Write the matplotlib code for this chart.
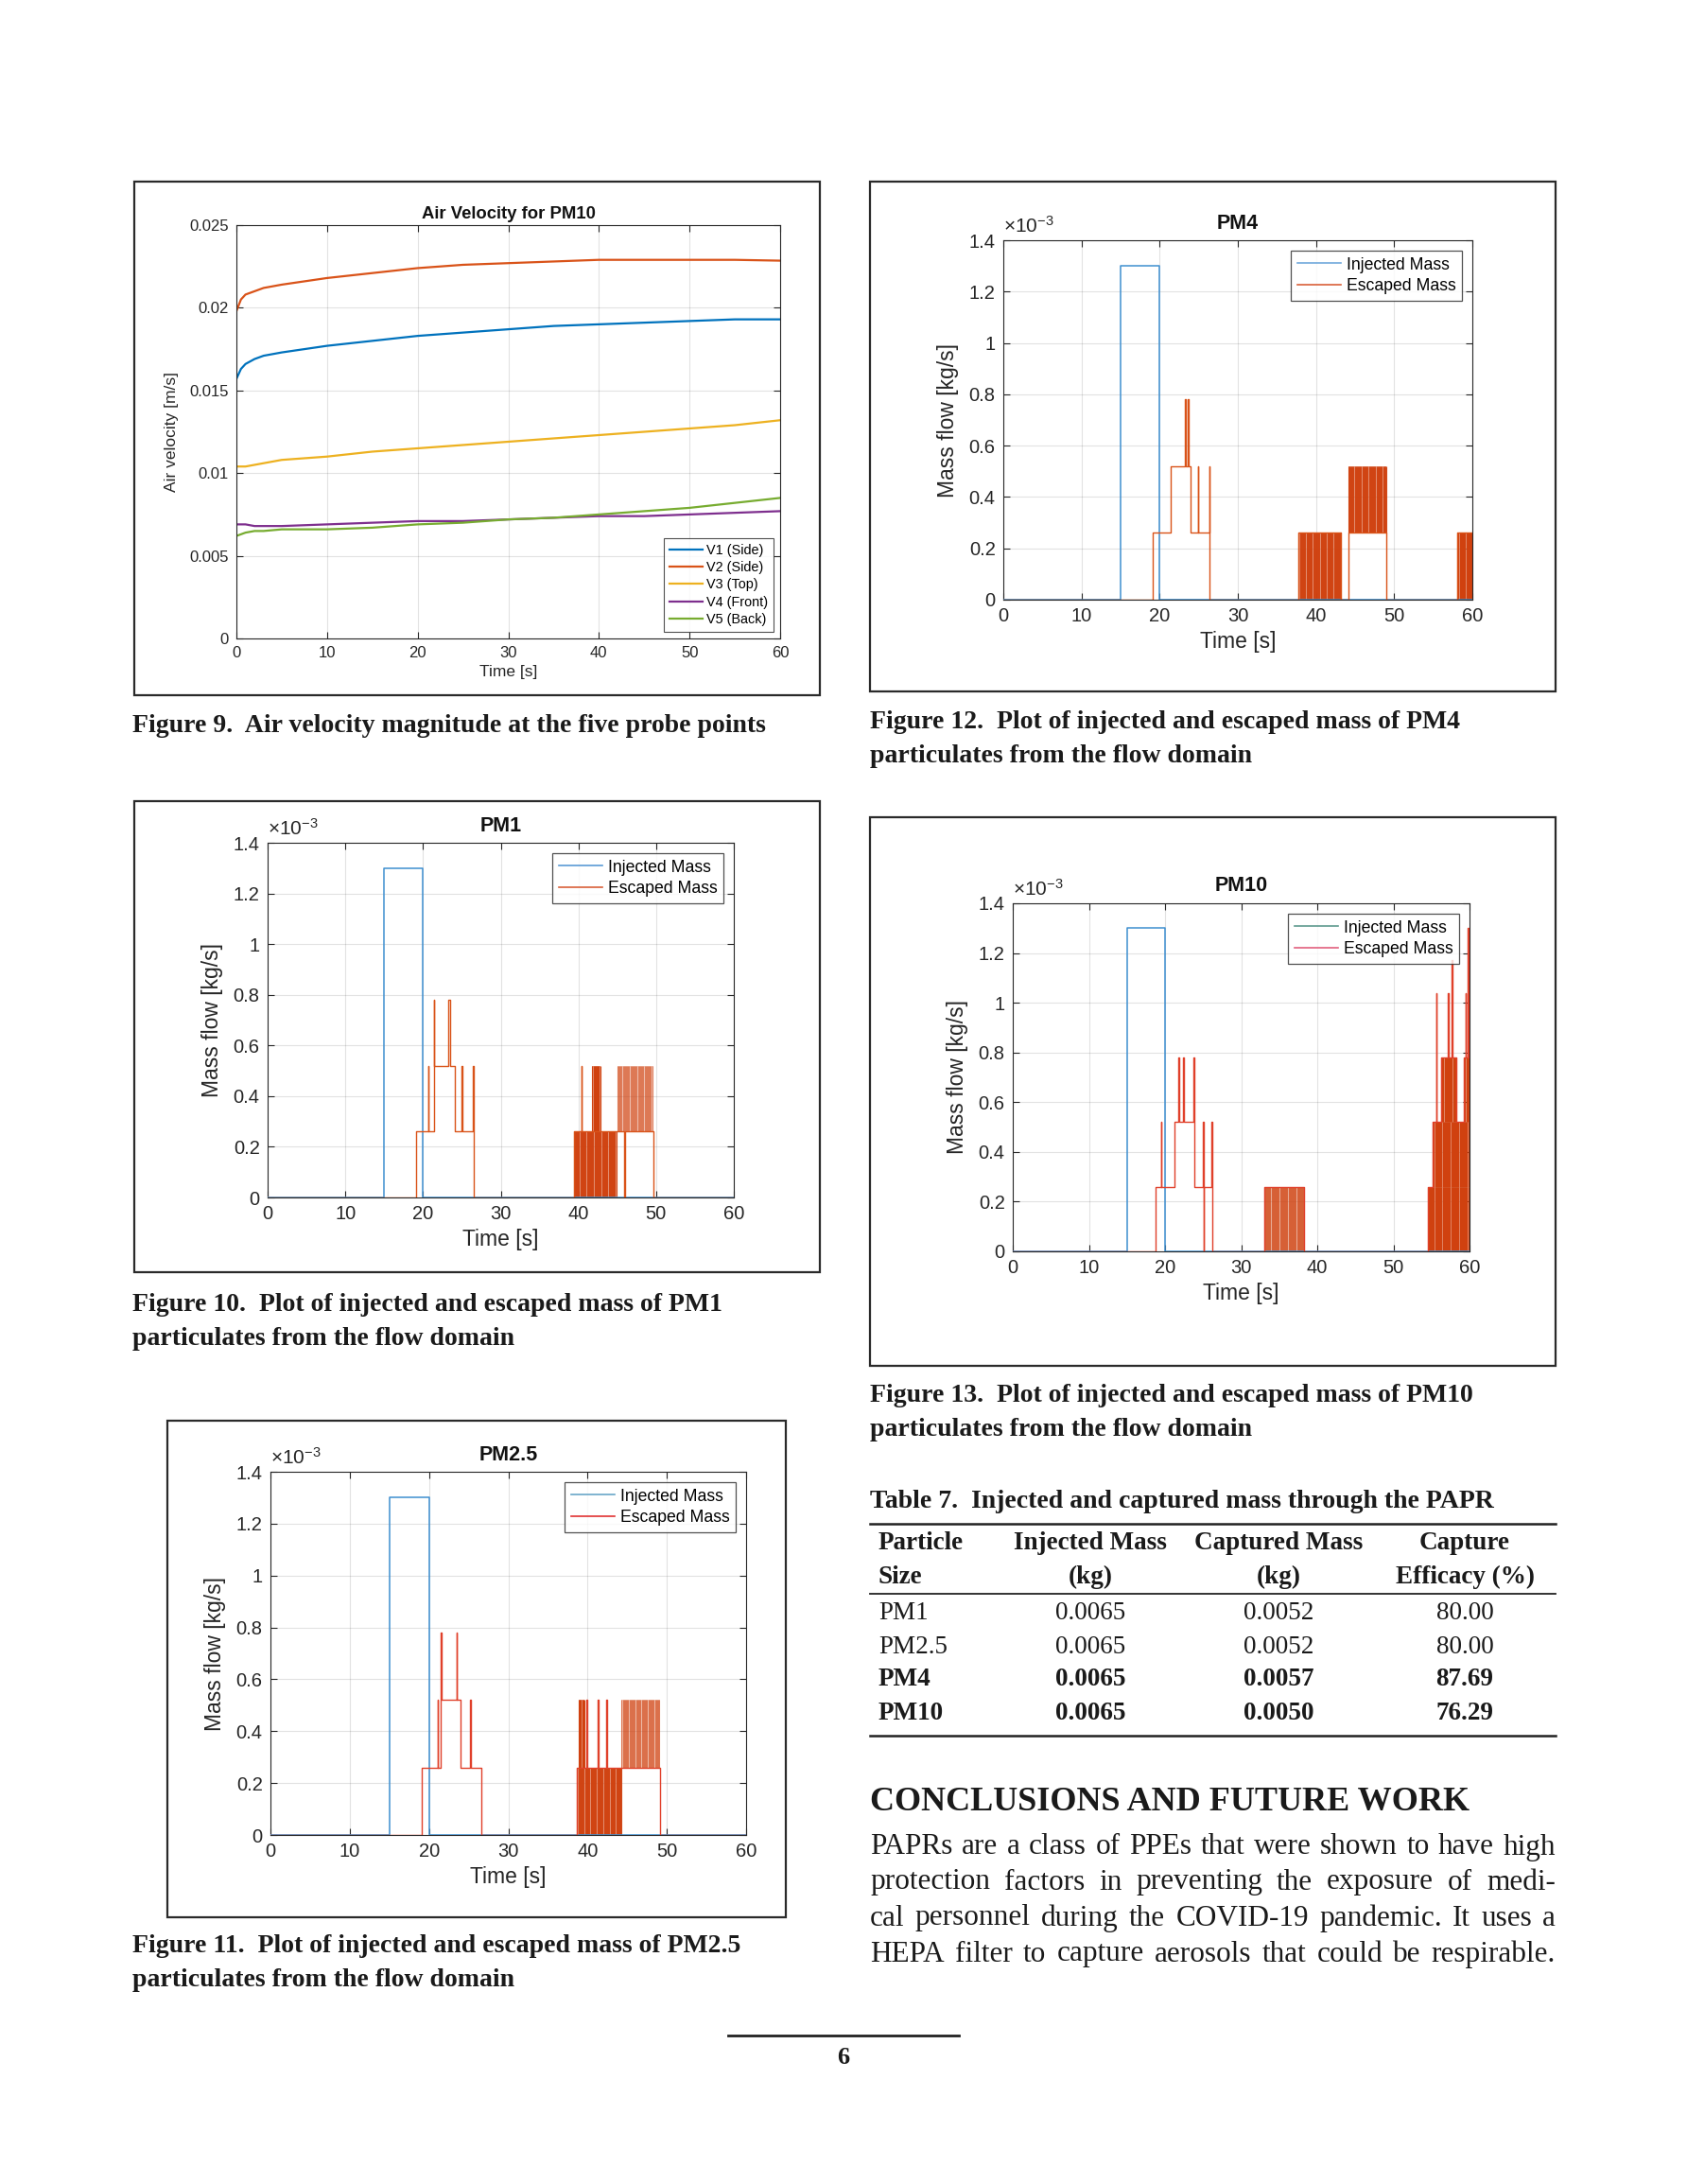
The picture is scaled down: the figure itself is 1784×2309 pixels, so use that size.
import numpy as np
import matplotlib
matplotlib.use('Agg')
import matplotlib.pyplot as plt
from matplotlib.patches import Rectangle
from matplotlib.lines import Line2D

W, H = 1784, 2309
DPI = 100
SANS = ['Liberation Sans', 'DejaVu Sans']
SERIF = ['Liberation Serif', 'DejaVu Serif']
plt.rcParams['font.family'] = SANS
plt.rcParams['mathtext.fontset'] = 'custom'
plt.rcParams['mathtext.rm'] = 'Liberation Sans'

# ---------------- data: Figure 9 (air velocity) ----------------
t_vel = [0, 0.5, 1, 2, 3, 5, 10, 15, 20, 25, 30, 35, 40, 45, 50, 55, 60]
v1_side = [0.0157, 0.0163, 0.0166, 0.0169, 0.0171, 0.0173, 0.0177, 0.0180, 0.0183, 0.0185,
           0.0187, 0.0189, 0.0190, 0.0191, 0.0192, 0.0193, 0.0193]
v2_side = [0.0198, 0.0205, 0.0208, 0.0210, 0.0212, 0.0214, 0.0218, 0.0221, 0.0224, 0.0226,
           0.0227, 0.0228, 0.0229, 0.0229, 0.0229, 0.0229, 0.02285]
v3_top = [0.0104, 0.0104, 0.0104, 0.0105, 0.0106, 0.0108, 0.0110, 0.0113, 0.0115, 0.0117,
          0.0119, 0.0121, 0.0123, 0.0125, 0.0127, 0.0129, 0.0132]
v4_front = [0.0069, 0.0069, 0.0069, 0.0068, 0.0068, 0.0068, 0.0069, 0.0070, 0.0071, 0.0071,
            0.0072, 0.0073, 0.0074, 0.0074, 0.0075, 0.0076, 0.0077]
v5_back = [0.0062, 0.0063, 0.0064, 0.0065, 0.0065, 0.0066, 0.0066, 0.0067, 0.0069, 0.0070,
           0.0072, 0.0073, 0.0075, 0.0077, 0.0079, 0.0082, 0.0085]
vel_labels = ['V1 (Side)', 'V2 (Side)', 'V3 (Top)', 'V4 (Front)', 'V5 (Back)']
vel_yticks = [0, 0.005, 0.01, 0.015, 0.02, 0.025]
vel_yticklabels = ['0', '0.005', '0.01', '0.015', '0.02', '0.025']

# ---------------- data: mass flow (units of 1e-3 kg/s) ----------------
time_ticks = [0, 10, 20, 30, 40, 50, 60]
mass_ticks = [0, 0.2, 0.4, 0.6, 0.8, 1.0, 1.2, 1.4]
mass_ticklabels = ['0', '0.2', '0.4', '0.6', '0.8', '1', '1.2', '1.4']

inj_t = [0, 15, 20, 60]
inj_v = [0, 1.3, 0, 0]

# PM1
pm1_esc_t = [0, 19.1, 20.7, 20.75, 21.4, 21.45, 23.2, 23.45, 24.1, 25.0, 25.05, 26.45, 26.5,
             39.4, 40.4, 40.45, 45.9, 45.95, 49.6, 60]
pm1_esc_v = [0, 0.26, 0.52, 0.26, 0.78, 0.52, 0.78, 0.52, 0.26, 0.52, 0.26, 0.52, 0,
             0.26, 0.52, 0.26, 0, 0.26, 0, 0]
pm1_band_t0 = [39.4, 41.8, 45.0]
pm1_band_t1 = [44.9, 42.8, 49.6]
pm1_band_lo = [0, 0.26, 0.26]
pm1_band_hi = [0.26, 0.52, 0.52]
pm1_band_alpha = [0.85, 0.9, 0.45]

# PM2.5
pm25_esc_t = [0, 19.1, 21.1, 21.15, 21.5, 21.55, 23.5, 23.55, 24.0, 25.2, 25.25, 26.6,
              38.7, 39.9, 39.95, 41.3, 41.35, 42.4, 42.45, 49.1, 60]
pm25_esc_v = [0, 0.26, 0.52, 0.26, 0.78, 0.52, 0.78, 0.52, 0.26, 0.52, 0.26, 0,
              0.26, 0.52, 0.26, 0.52, 0.26, 0.52, 0.26, 0, 0]
pm25_band_t0 = [38.7, 38.9, 44.3]
pm25_band_t1 = [44.3, 39.6, 49.1]
pm25_band_lo = [0, 0.26, 0.26]
pm25_band_hi = [0.26, 0.52, 0.52]
pm25_band_alpha = [0.85, 0.9, 0.5]

# PM4
pm4_esc_t = [0, 19.1, 21.4, 23.25, 23.3, 23.6, 23.65, 24.0, 24.9, 24.95, 26.35, 26.4,
             37.8, 43.2, 44.1, 49.0, 58.1, 60]
pm4_esc_v = [0, 0.26, 0.52, 0.78, 0.52, 0.78, 0.52, 0.26, 0.52, 0.26, 0.52, 0,
             0.26, 0, 0.26, 0, 0.26, 0.26]
pm4_band_t0 = [37.8, 44.1, 58.1]
pm4_band_t1 = [43.2, 49.0, 60.0]
pm4_band_lo = [0, 0.26, 0]
pm4_band_hi = [0.26, 0.52, 0.26]
pm4_band_alpha = [0.85, 0.85, 0.9]

# PM10
pm10_esc_t = [0, 18.8, 19.5, 19.55, 21.3, 21.8, 21.85, 22.4, 22.45, 23.7, 23.8, 25.0, 25.05,
              25.1, 26.1, 26.15, 33.0, 38.2, 54.5, 55.2, 55.6, 55.65, 56.3, 57.2, 57.25,
              57.7, 57.75, 58.3, 59.3, 59.5, 59.55, 59.8, 59.85, 60]
pm10_esc_v = [0, 0.26, 0.52, 0.26, 0.52, 0.78, 0.52, 0.78, 0.52, 0.78, 0.26, 0.52, 0,
              0.26, 0.52, 0, 0.26, 0, 0.26, 0.52, 1.04, 0.52, 0.78, 1.04, 0.78,
              1.17, 0.78, 0.52, 0.78, 1.04, 0.78, 1.3, 0.78, 0.78]
pm10_band_t0 = [33.0, 54.5, 55.2, 56.3, 59.3]
pm10_band_t1 = [38.2, 60.0, 60.0, 58.3, 60.0]
pm10_band_lo = [0, 0, 0.26, 0.52, 0.52]
pm10_band_hi = [0.26, 0.26, 0.52, 0.78, 0.78]
pm10_band_alpha = [0.6, 0.95, 0.95, 0.9, 0.9]

# ---------------- data: table ----------------
tbl_particle = ['PM1', 'PM2.5', 'PM4', 'PM10']
tbl_injected = ['0.0065', '0.0065', '0.0065', '0.0065']
tbl_captured = ['0.0052', '0.0052', '0.0057', '0.0050']
tbl_efficacy = ['80.00', '80.00', '87.69', '76.29']
tbl_bold = [False, False, True, True]

# ---------------- helpers ----------------
fig = plt.figure(figsize=(W / DPI, H / DPI), dpi=DPI)
fig.patch.set_facecolor('white')


def ax_at(l, t, r, b):
    return fig.add_axes([l / W, 1 - b / H, (r - l) / W, (b - t) / H])


def box(l, t, r, b, lw=1.6):
    fig.patches.append(Rectangle((l / W, 1 - b / H), (r - l) / W, (b - t) / H,
                                 transform=fig.transFigure, fill=False,
                                 ec='#2a2a2a', lw=lw))


def ftext(x, y, s, **kw):
    return fig.text(x / W, 1 - y / H, s, **kw)


def hline(x0, x1, y, lw=1.5, color='#222222'):
    fig.add_artist(Line2D([x0 / W, x1 / W], [1 - y / H, 1 - y / H],
                          transform=fig.transFigure, color=color, lw=lw))


def matlab_style(ax, fs):
    ax.tick_params(direction='in', top=True, right=True, length=5, width=0.8,
                   labelsize=fs, colors='#262626', pad=6)
    for s in ax.spines.values():
        s.set_color('#262626')
        s.set_linewidth(0.8)
    ax.grid(True, color='#262626', alpha=0.13, lw=0.8)
    ax.set_axisbelow(True)


AXC = '#262626'

# ---------------- Figure 9 ----------------
box(142, 192, 867, 735)
ax = ax_at(250, 238, 825, 675)
cols = ['#0072BD', '#D95319', '#EDB120', '#7E2F8E', '#77AC30']
for vals, c, lab in zip([v1_side, v2_side, v3_top, v4_front, v5_back], cols, vel_labels):
    ax.plot(t_vel, vals, color=c, lw=1.6, label=lab)
ax.set_xlim(0, 60)
ax.set_ylim(0, 0.025)
ax.set_xticks(time_ticks)
ax.set_yticks(vel_yticks)
ax.set_yticklabels(vel_yticklabels)
matlab_style(ax, 12)
ax.set_title('Air Velocity for PM10', fontsize=13.3, fontweight='bold', color='#111111', pad=5)
ax.set_xlabel('Time [s]', fontsize=12.5, color=AXC, labelpad=3)
ax.set_ylabel('Air velocity [m/s]', fontsize=12.5, color=AXC, labelpad=8)
leg = ax.legend(loc='lower right', fontsize=10.4, frameon=True, fancybox=False,
                edgecolor='#262626', handlelength=2.4, borderaxespad=0.5,
                labelspacing=0.3, handletextpad=0.3, borderpad=0.4)
leg.get_frame().set_linewidth(0.8)

# ---------------- Mass flow plots ----------------
def mass_plot(boxc, axc, title, esc_t, esc_v, b_t0, b_t1, b_lo, b_hi, b_alpha,
              leg_inj_c, leg_esc_c, esc_c='#D95319', band_c='#D0410F'):
    box(*boxc)
    ax = ax_at(*axc)
    ax.plot(inj_t, inj_v, drawstyle='steps-post', color='#3E8FD0', lw=1.1, zorder=3)
    for t0, t1, lo, hi, a in zip(b_t0, b_t1, b_lo, b_hi, b_alpha):
        ax.fill_between([t0, t1], [lo, lo], [hi, hi], color=band_c, alpha=a * 0.65, lw=0, zorder=2)
        xs = np.arange(t0, t1 + 1e-9, 0.14)
        ax.vlines(xs, lo, hi, color=band_c, lw=0.8, alpha=min(1, a + 0.1), zorder=2)
    ax.plot(esc_t, esc_v, drawstyle='steps-post', color=esc_c, lw=1.0, zorder=4)
    ax.set_xlim(0, 60)
    ax.set_ylim(0, 1.4)
    ax.set_xticks(time_ticks)
    ax.set_yticks(mass_ticks)
    ax.set_yticklabels(mass_ticklabels)
    matlab_style(ax, 14.5)
    ax.set_title(title, fontsize=15.5, fontweight='bold', color='#111111', pad=9)
    ax.set_xlabel('Time [s]', fontsize=16.5, color=AXC, labelpad=4)
    ax.set_ylabel('Mass flow [kg/s]', fontsize=16.5, color=AXC, labelpad=8)
    ax.text(0.0, 1.012, r'$\times\mathregular{10^{-3}}$', transform=ax.transAxes,
            fontsize=15, color=AXC, ha='left', va='bottom')
    handles = [Line2D([], [], color=leg_inj_c, lw=1.2), Line2D([], [], color=leg_esc_c, lw=1.2)]
    lg = ax.legend(handles, ['Injected Mass', 'Escaped Mass'], loc='upper right',
                   fontsize=12.7, frameon=True, fancybox=False, edgecolor='#262626',
                   handlelength=2.6, borderaxespad=0.6, labelspacing=0.3,
                   handletextpad=0.3, borderpad=0.4)
    lg.get_frame().set_linewidth(0.9)
    lg.set_zorder(10)
    return ax


mass_plot((142, 847, 867, 1345), (283, 891, 776, 1266), 'PM1',
          pm1_esc_t, pm1_esc_v, pm1_band_t0, pm1_band_t1, pm1_band_lo, pm1_band_hi,
          pm1_band_alpha, '#5B9BD5', '#D9603A')
mass_plot((177, 1502, 831, 2027), (286, 1556, 789, 1940), 'PM2.5',
          pm25_esc_t, pm25_esc_v, pm25_band_t0, pm25_band_t1, pm25_band_lo, pm25_band_hi,
          pm25_band_alpha, '#6AA7C8', '#E03232', esc_c='#E0402A')
mass_plot((920, 192, 1645, 731), (1061, 254, 1557, 634), 'PM4',
          pm4_esc_t, pm4_esc_v, pm4_band_t0, pm4_band_t1, pm4_band_lo, pm4_band_hi,
          pm4_band_alpha, '#6FA8DC', '#D9603A')
mass_plot((920, 864, 1645, 1444), (1071, 955, 1554, 1323), 'PM10',
          pm10_esc_t, pm10_esc_v, pm10_band_t0, pm10_band_t1, pm10_band_lo, pm10_band_hi,
          pm10_band_alpha, '#5E9A8E', '#E2607E', esc_c='#E0402A')

# ---------------- captions ----------------
cap_kw = dict(family=SERIF, fontweight='bold', fontsize=20, color='#1a1a1a',
              ha='left', va='center')
ftext(140, 767, 'Figure 9.  Air velocity magnitude at the five probe points', **cap_kw)
ftext(140, 1380, 'Figure 10.  Plot of injected and escaped mass of PM1', **cap_kw)
ftext(140, 1415, 'particulates from the flow domain', **cap_kw)
ftext(140, 2058, 'Figure 11.  Plot of injected and escaped mass of PM2.5', **cap_kw)
ftext(140, 2094, 'particulates from the flow domain', **cap_kw)
ftext(920, 764, 'Figure 12.  Plot of injected and escaped mass of PM4', **cap_kw)
ftext(920, 799, 'particulates from the flow domain', **cap_kw)
ftext(920, 1476, 'Figure 13.  Plot of injected and escaped mass of PM10', **cap_kw)
ftext(920, 1511, 'particulates from the flow domain', **cap_kw)

# ---------------- table ----------------
ftext(920, 1588, 'Table 7.  Injected and captured mass through the PAPR', **cap_kw)
hline(920, 1645, 1611, lw=1.8)
hline(920, 1645, 1685, lw=1.3)
hline(920, 1645, 1835, lw=1.8)
col_x = [929, 1153, 1352, 1549]
hdr_kw = dict(family=SERIF, fontweight='bold', fontsize=19.5, color='#1a1a1a', va='center')
ftext(col_x[0], 1632, 'Particle', ha='left', **hdr_kw)
ftext(col_x[0], 1667, 'Size', ha='left', **hdr_kw)
ftext(col_x[1], 1632, 'Injected Mass', ha='center', **hdr_kw)
ftext(col_x[1], 1667, '(kg)', ha='center', **hdr_kw)
ftext(col_x[2], 1632, 'Captured Mass', ha='center', **hdr_kw)
ftext(col_x[2], 1667, '(kg)', ha='center', **hdr_kw)
ftext(col_x[3], 1632, 'Capture', ha='center', **hdr_kw)
ftext(col_x[3], 1667, 'Efficacy (%)', ha='center', **hdr_kw)
row_y = [1706, 1741, 1776, 1812]
for i, y in enumerate(row_y):
    kw = dict(family=SERIF, fontsize=19.5, color='#1a1a1a', va='center',
              fontweight='bold' if tbl_bold[i] else 'normal')
    ftext(col_x[0], y, tbl_particle[i], ha='left', **kw)
    ftext(col_x[1], y, tbl_injected[i], ha='center', **kw)
    ftext(col_x[2], y, tbl_captured[i], ha='center', **kw)
    ftext(col_x[3], y, tbl_efficacy[i], ha='center', **kw)

# ---------------- conclusions ----------------
ftext(920, 1905, 'CONCLUSIONS AND FUTURE WORK', family=SERIF, fontweight='bold',
      fontsize=26, color='#1a1a1a', ha='left', va='center')
para = ['PAPRs are a class of PPEs that were shown to have high',
        'protection factors in preventing the exposure of medi-',
        'cal personnel during the COVID-19 pandemic. It uses a',
        'HEPA filter to capture aerosols that could be respirable.']
para_y = [1953, 1990, 2028, 2066]
renderer = fig.canvas.get_renderer()
for line, y in zip(para, para_y):
    words = line.split(' ')
    txts = [ftext(920, y, w, family=SERIF, fontsize=22.5, color='#1a1a1a',
                  ha='left', va='center') for w in words]
    widths = [t.get_window_extent(renderer).width for t in txts]
    gap = (1645 - 920 - sum(widths)) / (len(words) - 1)
    x = 920.0
    for t, w in zip(txts, widths):
        t.set_x(x / W)
        x += w + gap

# ---------------- page number ----------------
hline(770, 1014, 2152, lw=2.0)
ftext(892, 2175, '6', family=SERIF, fontweight='bold', fontsize=19, color='#1a1a1a',
      ha='center', va='center')

fig.savefig('out.png', dpi=DPI, facecolor='white')
